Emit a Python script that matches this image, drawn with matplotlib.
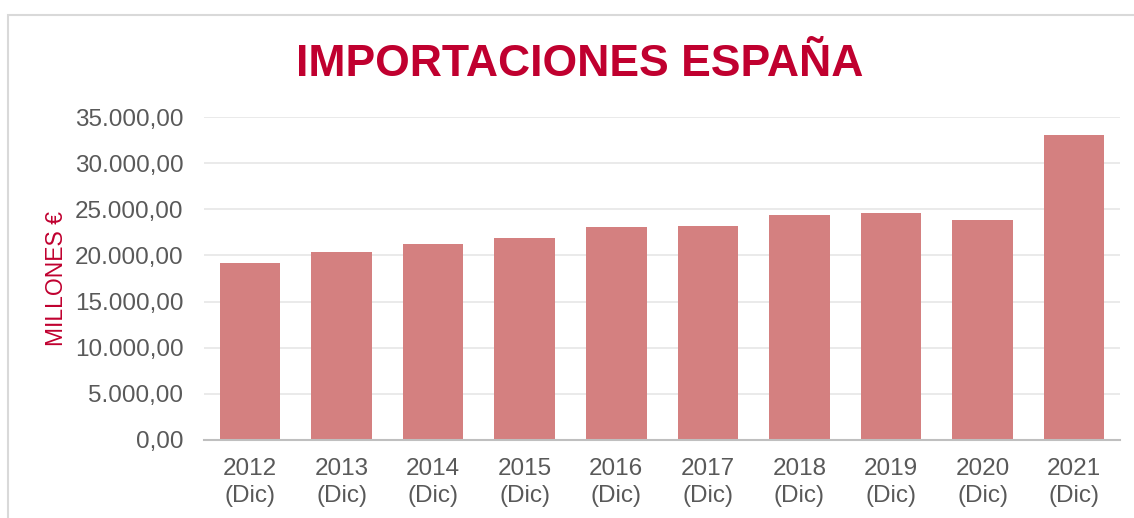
import matplotlib.pyplot as plt
from matplotlib.patches import Rectangle
from matplotlib.ticker import FuncFormatter

plt.rcParams['font.family'] = ['Liberation Sans', 'DejaVu Sans']

# Datos (millones de euros)
years = ['2012', '2013', '2014', '2015', '2016', '2017', '2018', '2019', '2020', '2021']
labels = [f'{y}\n(Dic)' for y in years]
imports = [19140, 20340, 21240, 21850, 23110, 23220, 24340, 24590, 23870, 33010]

RED = '#C0002F'
BAR = '#D48080'
GREY = '#595959'

fig = plt.figure(figsize=(11.34, 5.18), dpi=100)
ax = fig.add_axes([0.180, 0.1506, 0.8077, 0.6235])

# marco del gráfico
fig.patches.append(Rectangle((8 / 1134, -0.1), 1.2, 1 - 15 / 518 + 0.1,
                             transform=fig.transFigure, fill=False,
                             edgecolor='#D9D9D9', linewidth=1.5))

x = range(len(years))
ax.bar(x, imports, width=0.66, color=BAR, zorder=2)

ax.set_xlim(-0.5, len(years) - 0.5)
ax.set_ylim(0, 35000)
ax.set_yticks(range(0, 35001, 5000))
ax.yaxis.set_major_formatter(FuncFormatter(
    lambda v, p: f'{v:,.2f}'.replace(',', 'X').replace('.', ',').replace('X', '.')))
ax.set_xticks(list(x))
ax.set_xticklabels(labels, linespacing=1.3)

ax.grid(True, axis='y', color='#E6E6E6', linewidth=1.2, zorder=0)
for s in ['top', 'right', 'left']:
    ax.spines[s].set_visible(False)
ax.spines['bottom'].set_color('#BFBFBF')
ax.spines['bottom'].set_linewidth(1.5)
ax.tick_params(axis='both', length=0, labelsize=17.5, labelcolor=GREY)
ax.tick_params(axis='y', pad=15)
ax.tick_params(axis='x', pad=13)

ax.set_ylabel('MILLONES €', color=RED, fontsize=16.5)
ax.yaxis.set_label_coords(-0.149, 0.5)

fig.text(0.511, 1 - 76 / 518, 'IMPORTACIONES ESPAÑA', color=RED, fontsize=32,
         fontweight='bold', ha='center', va='baseline')

fig.savefig('out.png', dpi=100, facecolor='white')
